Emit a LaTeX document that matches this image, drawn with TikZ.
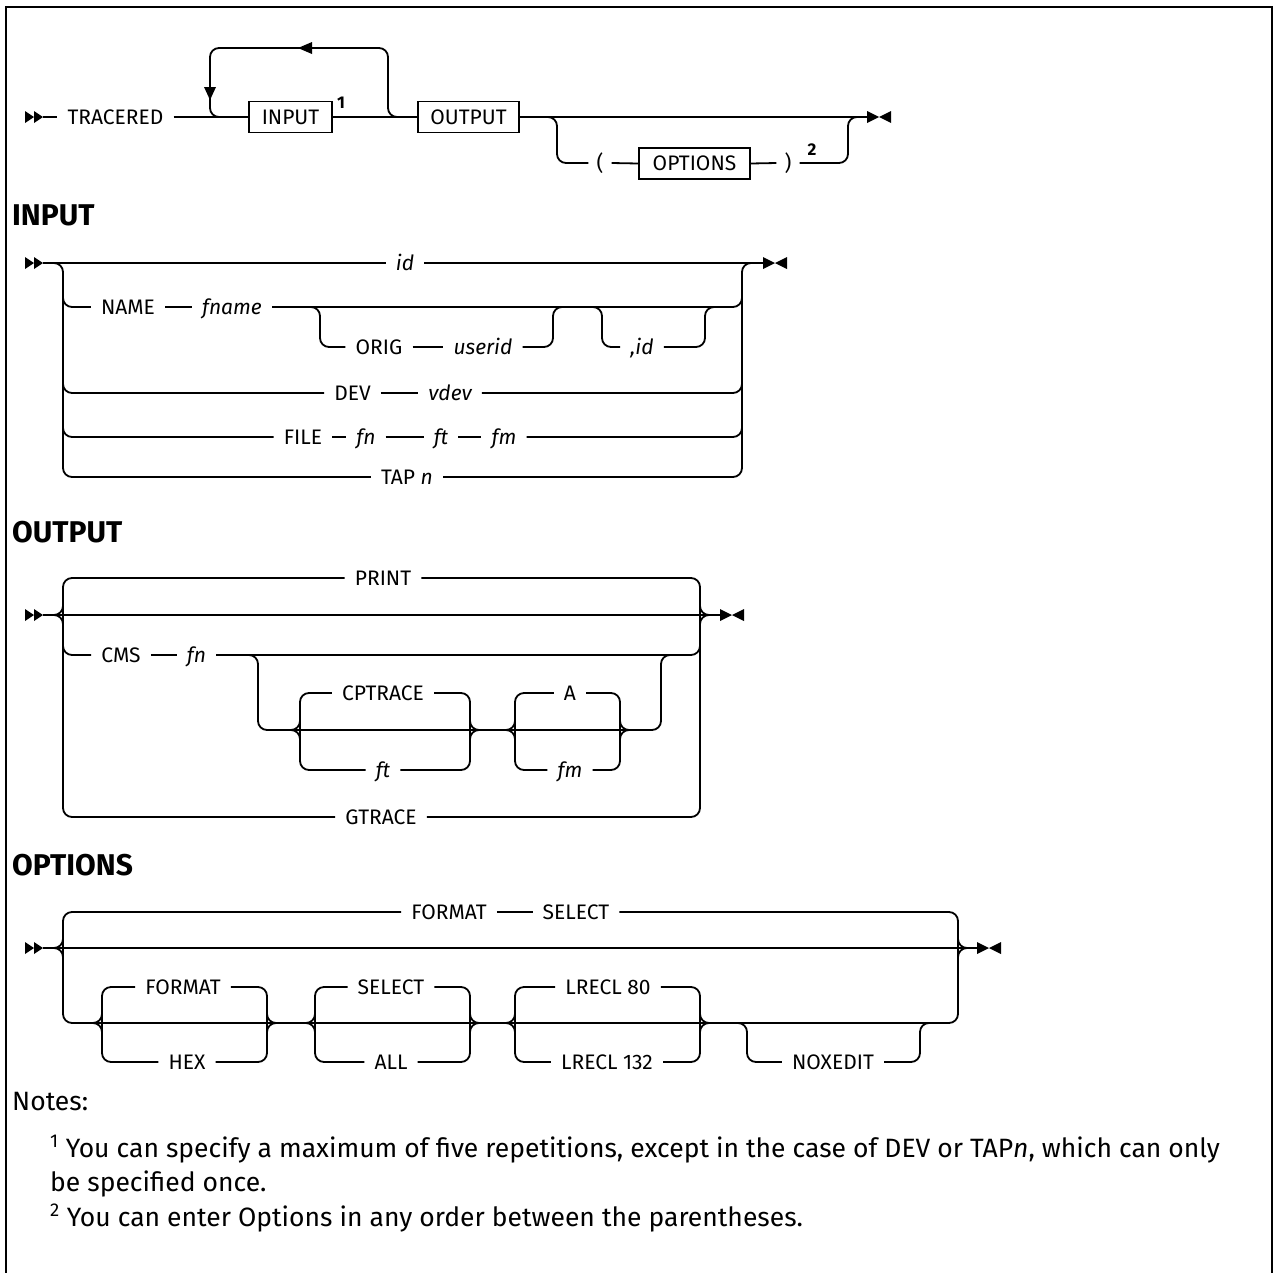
\documentclass[tikz,border=0pt]{standalone}
\usepackage{fontspec}
\setmainfont{Fira Sans}
\usetikzlibrary{positioning}
\tikzset{
  rail/.style={line width=1.8pt,rounded corners=9pt},
  kw/.style={inner xsep=10pt,inner ysep=0pt,text height=14.5pt,text depth=0pt,font=\fontsize{21}{24}\selectfont},
  var/.style={kw,font=\itshape\fontsize{21}{24}\selectfont},
  sbox/.style={kw,draw,line width=1.8pt,inner xsep=0pt,minimum height=31pt},
  supnum/.style={inner sep=0pt,font=\fontsize{17}{20}\selectfont\bfseries},
  head/.style={anchor=west,inner sep=0pt,font=\fontsize{30}{33}\selectfont\bfseries},
  noteline/.style={anchor=base west,inner sep=0pt,font=\fontsize{26.5}{30}\selectfont},
  startmark/.pic={\fill (0,-6) -- (9,0) -- (0,6) -- cycle; \fill (9,-6) -- (18,0) -- (9,6) -- cycle;},
  endmark/.pic={\fill (0,-6) -- (12,0) -- (0,6) -- cycle; \fill (24,-6) -- (12,0) -- (24,6) -- cycle;}
}
\begin{document}
\begin{tikzpicture}[x=1pt,y=-1pt]
\useasboundingbox (0,0) rectangle (1274,1272);
\draw[line width=2pt] (6,1274) -- (6,7) -- (1272,7) -- (1272,1274);
% TRACERED
\pic at (25,117) {startmark};
\node[kw] (tracered) at (115.5,117) {TRACERED};
\node[sbox,minimum width=83pt] (inbox) at (290.5,117) {INPUT};
\node[supnum] (sup1) at (341,103) {1};
\node[sbox,minimum width=101pt] (outbox) at (468.5,117) {OUTPUT};
\node[kw,inner xsep=8pt] (lpar) at (600,163) {(};
\node[sbox,minimum width=111pt] (optbox) at (694.5,163.5) {OPTIONS};
\node[kw,inner xsep=8pt] (rpar) at (788,163) {)};
\node[supnum] (sup2) at (812,150) {2};
\coordinate (end1) at (867,117);
\draw[rail] (43,117) -- (tracered.west);
\draw[rail] (tracered.east) -- (inbox.west);
\draw[rail] (inbox.east) -- (outbox.west);
\draw[rail] (outbox.east) -- (end1);
\draw[rail] (400,117) -- (388,117) -- (388,48) -- (210,48) -- (210,117) -- (222,117);
\fill (298,48) -- (312,42) -- (312,54) -- cycle;
\fill (210,100) -- (204,87) -- (216,87) -- cycle;
\draw[rail] (545,117) -- (557,117) -- (557,163) -- (lpar.west);
\draw[rail] (lpar.east) -- (optbox.west);
\draw[rail] (optbox.east) -- (rpar.west);
\draw[rail] (rpar.east) -- (848,163) -- (848,117) -- (860,117);
\pic at (end1) {endmark};
% INPUT
\node[head] (hinput) at (12,215) {INPUT};
\pic at (25,263) {startmark};
\node[var] (id1) at (405,263) {id};
\coordinate (end2) at (763,263);
\draw[rail] (43,263) -- (id1.west);
\draw[rail] (id1.east) -- (end2);
\pic at (end2) {endmark};
\node[kw] (name) at (128,307) {NAME};
\node[var] (fname) at (232,307) {fname};
\node[kw] (orig) at (379,347) {ORIG};
\node[var] (userid) at (483,347) {userid};
\node[var] (cid) at (642,347) {,id};
\node[kw] (dev) at (352.5,393) {DEV};
\node[var] (vdev) at (450,393) {vdev};
\node[kw] (file) at (303,437) {FILE};
\node[var] (fn1) at (366,437) {fn};
\node[var] (ft1) at (441,437) {ft};
\node[var] (fm1) at (504,437) {fm};
\node[kw] (tap) at (407,477) {TAP \textit{n}};
\draw[rail] (53,263) -- (63,263) -- (63,477) -- (tap.west);
\draw[rail] (tap.east) -- (742,477) -- (742,263) -- (752,263);
\draw[rail] (63,295) -- (63,307) -- (name.west);
\draw[rail] (name.east) -- (fname.west);
\draw[rail] (fname.east) -- (742,307) -- (742,295);
\draw[rail] (308,307) -- (320,307) -- (320,347) -- (orig.west);
\draw[rail] (orig.east) -- (userid.west);
\draw[rail] (userid.east) -- (553,347) -- (553,307) -- (565,307);
\draw[rail] (590,307) -- (602,307) -- (602,347) -- (cid.west);
\draw[rail] (cid.east) -- (705,347) -- (705,307) -- (717,307);
\draw[rail] (63,381) -- (63,393) -- (dev.west);
\draw[rail] (dev.east) -- (vdev.west);
\draw[rail] (vdev.east) -- (742,393) -- (742,381);
\draw[rail] (63,425) -- (63,437) -- (file.west);
\draw[rail] (file.east) -- (fn1.west);
\draw[rail] (fn1.east) -- (ft1.west);
\draw[rail] (ft1.east) -- (fm1.west);
\draw[rail] (fm1.east) -- (742,437) -- (742,425);
% OUTPUT
\node[head] (houtput) at (12,532) {OUTPUT};
\pic at (25,615) {startmark};
\coordinate (end3) at (720,615);
\draw[rail] (43,615) -- (end3);
\pic at (end3) {endmark};
\node[kw] (print) at (383,578) {PRINT};
\node[kw] (cms) at (121,655) {CMS};
\node[var] (fn2) at (196.5,655) {fn};
\node[kw] (cptrace) at (383,693) {CPTRACE};
\node[var] (ft2) at (383,770) {ft};
\node[kw] (adisk) at (570,693) {A};
\node[var] (fm2) at (570,770) {fm};
\node[kw] (gtrace) at (381,817) {GTRACE};
\draw[rail] (print.west) -- (63,578) -- (63,817) -- (gtrace.west);
\draw[rail] (print.east) -- (700,578) -- (700,817) -- (gtrace.east);
\draw[rail] (63,643) -- (63,655) -- (cms.west);
\draw[rail] (cms.east) -- (fn2.west);
\draw[rail] (fn2.east) -- (700,655) -- (700,643);
\draw[rail] (246,655) -- (258,655) -- (258,730) -- (661,730) -- (661,655) -- (673,655);
\draw[rail] (cptrace.west) -- (300,693) -- (300,770) -- (ft2.west);
\draw[rail] (cptrace.east) -- (470,693) -- (470,770) -- (ft2.east);
\draw[rail] (adisk.west) -- (515,693) -- (515,770) -- (fm2.west);
\draw[rail] (adisk.east) -- (620,693) -- (620,770) -- (fm2.east);
% OPTIONS
\node[head] (hoptions) at (12,865) {OPTIONS};
\pic at (25,948) {startmark};
\coordinate (end4) at (977,948);
\draw[rail] (43,948) -- (end4);
\pic at (end4) {endmark};
\node[kw] (fmt0) at (449,912) {FORMAT};
\node[kw] (sel0) at (576,912) {SELECT};
\node[kw] (fmt1) at (183,987) {FORMAT};
\node[kw] (hex) at (187,1062) {HEX};
\node[kw] (sel1) at (391,987) {SELECT};
\node[kw] (all) at (391,1062) {ALL};
\node[kw] (lrecl80) at (608,987) {LRECL 80};
\node[kw] (lrecl132) at (607,1062) {LRECL 132};
\node[kw] (noxedit) at (833,1062) {NOXEDIT};
\draw[rail] (fmt0.east) -- (sel0.west);
\draw[rail] (fmt0.west) -- (63,912) -- (63,1023) -- (958,1023) -- (958,912) -- (sel0.east);
\draw[rail] (fmt1.west) -- (102,987) -- (102,1062) -- (hex.west);
\draw[rail] (fmt1.east) -- (267,987) -- (267,1062) -- (hex.east);
\draw[rail] (sel1.west) -- (315,987) -- (315,1062) -- (all.west);
\draw[rail] (sel1.east) -- (470,987) -- (470,1062) -- (all.east);
\draw[rail] (lrecl80.west) -- (515,987) -- (515,1062) -- (lrecl132.west);
\draw[rail] (lrecl80.east) -- (700,987) -- (700,1062) -- (lrecl132.east);
\draw[rail] (735,1023) -- (747,1023) -- (747,1062) -- (noxedit.west);
\draw[rail] (noxedit.east) -- (920,1062) -- (920,1023) -- (932,1023);
% choice joins
\foreach \x/\y in {63/615,300/730,515/730,63/948,102/1023,315/1023,515/1023}{
  \draw[rail] (\x-12,\y) -- (\x,\y) -- (\x,\y-12);
  \draw[rail] (\x-12,\y) -- (\x,\y) -- (\x,\y+12);
}
\foreach \x/\y in {700/615,470/730,620/730,958/948,267/1023,470/1023,700/1023}{
  \draw[rail] (\x,\y-12) -- (\x,\y) -- (\x+12,\y);
  \draw[rail] (\x,\y+12) -- (\x,\y) -- (\x+12,\y);
}
% notes
\node[noteline] (notes) at (12,1110) {Notes:};
\node[noteline] (note1) at (50,1157) {\textsuperscript{1} You can specify a maximum of five repetitions, except in the case of DEV or TAP\textit{n}, which can only};
\node[noteline] (note1b) at (50,1191) {be specified once.};
\node[noteline] (note2) at (50,1226) {\textsuperscript{2} You can enter Options in any order between the parentheses.};
\end{tikzpicture}
\end{document}
